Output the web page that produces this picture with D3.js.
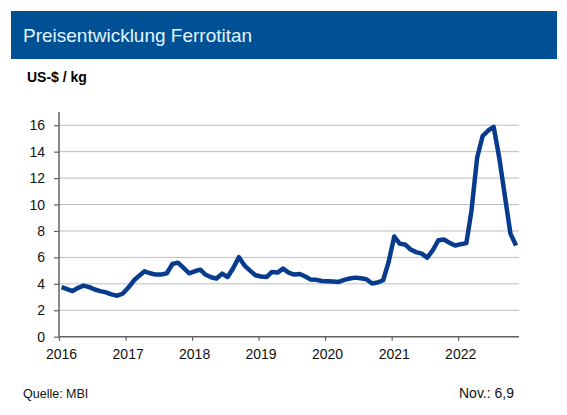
<!DOCTYPE html>
<html>
<head>
<meta charset="utf-8">
<script src="https://cdn.jsdelivr.net/npm/d3@7"></script>
<style>
  html, body { margin: 0; padding: 0; background: #fff; }
  svg { display: block; font-family: "Liberation Sans", Arial, sans-serif; }
</style>
</head>
<body>
<svg id="chart" width="567" height="415"></svg>
<script>
// Monthly prices, US-$ / kg
const price2016 = [3.75, 3.6, 3.45, 3.7, 3.87, 3.75, 3.57, 3.45, 3.35, 3.2, 3.1, 3.25];
const price2017 = [3.7, 4.25, 4.6, 4.95, 4.8, 4.7, 4.7, 4.8, 5.5, 5.6, 5.2, 4.8];
const price2018 = [4.95, 5.07, 4.7, 4.5, 4.4, 4.77, 4.52, 5.2, 6.02, 5.4, 5.0, 4.65];
const price2019 = [4.55, 4.52, 4.9, 4.85, 5.15, 4.85, 4.7, 4.75, 4.55, 4.32, 4.3, 4.22];
const price2020 = [4.2, 4.17, 4.14, 4.3, 4.4, 4.47, 4.42, 4.35, 4.02, 4.1, 4.27, 5.65];
const price2021 = [7.58, 7.03, 6.98, 6.6, 6.4, 6.28, 5.98, 6.55, 7.3, 7.35, 7.1, 6.9];
const price2022 = [7.0, 7.08, 9.53, 13.54, 15.17, 15.6, 15.87, 13.5, 10.6, 7.8, 6.9];

const startYear = 2016;
const yearTicks = [2016, 2017, 2018, 2019, 2020, 2021, 2022];
const yTicks = [0, 2, 4, 6, 8, 10, 12, 14, 16];

const titleText = 'Preisentwicklung Ferrotitan';
const unitText = 'US-$ / kg';
const sourceText = 'Quelle: MBI';
const lastText = 'Nov.: 6,9';

const prices = [].concat(price2016, price2017, price2018, price2019, price2020, price2021, price2022);
const data = prices.map((v, i) => ({
  date: new Date(startYear + Math.floor(i / 12), i % 12, 15),
  value: v
}));

const svg = d3.select('#chart');

// Title bar
svg.append('rect')
  .attr('x', 11).attr('y', 11)
  .attr('width', 546).attr('height', 48)
  .attr('fill', '#005096');
svg.append('text')
  .attr('x', 23).attr('y', 42)
  .attr('font-size', 19)
  .attr('fill', '#e2f5ff')
  .text(titleText);

// Unit label
svg.append('text')
  .attr('x', 27).attr('y', 82)
  .attr('font-size', 14)
  .attr('font-weight', 'bold')
  .attr('fill', '#000')
  .text(unitText);

// Scales
const xScale = d3.scaleTime()
  .domain([new Date(2016, 0, 1), new Date(2022, 11, 1)])
  .range([59, 519]);
const yScale = d3.scaleLinear().domain([0, 17]).range([336.7, 112]);

// Gridlines
svg.append('g')
  .selectAll('line')
  .data(yTicks.filter(d => d > 0))
  .enter()
  .append('line')
  .attr('x1', xScale.range()[0])
  .attr('x2', xScale.range()[1])
  .attr('y1', d => yScale(d))
  .attr('y2', d => yScale(d))
  .attr('stroke', '#bcbcbc')
  .attr('stroke-width', 1);

// Y axis
const yAxis = d3.axisLeft(yScale).tickValues(yTicks).tickSize(5).tickPadding(9);
const gy = svg.append('g').attr('transform', `translate(${xScale.range()[0]},0)`).call(yAxis);

// X axis
const xAxis = d3.axisBottom(xScale)
  .tickValues(yearTicks.map(y => new Date(y, 0, 1)))
  .tickFormat(d3.timeFormat('%Y'))
  .tickSize(4)
  .tickPadding(8);
const gx = svg.append('g').attr('transform', `translate(0,${yScale(0)})`).call(xAxis);

[gx, gy].forEach(g => {
  g.select('.domain').attr('stroke', '#606060').attr('stroke-width', 1.5);
  g.selectAll('.tick line').attr('stroke', '#606060').attr('stroke-width', 1.2);
  g.selectAll('.tick text')
    .attr('font-size', 14)
    .attr('fill', '#111')
    .attr('font-family', '"Liberation Sans", Arial, sans-serif');
});
gx.selectAll('.tick text').attr('dx', 2);
// make the y domain reach the top and not draw outer ticks
gy.select('.domain').attr('d', `M0,${yScale(0)}V${yScale(17)}`);
gx.select('.domain').attr('d', `M${xScale.range()[0]},0H${xScale.range()[1]}`);

// Price line
const line = d3.line()
  .x(d => xScale(d.date))
  .y(d => yScale(d.value));

svg.append('path')
  .datum(data)
  .attr('d', line)
  .attr('fill', 'none')
  .attr('stroke', '#073b8e')
  .attr('stroke-width', 4.5)
  .attr('stroke-linejoin', 'round')
  .attr('stroke-linecap', 'butt');

// Footer
svg.append('text')
  .attr('x', 23).attr('y', 398)
  .attr('font-size', 12.5)
  .attr('fill', '#111')
  .text(sourceText);
svg.append('text')
  .attr('x', 514).attr('y', 398)
  .attr('text-anchor', 'end')
  .attr('font-size', 14)
  .attr('fill', '#111')
  .text(lastText);
</script>
</body>
</html>
